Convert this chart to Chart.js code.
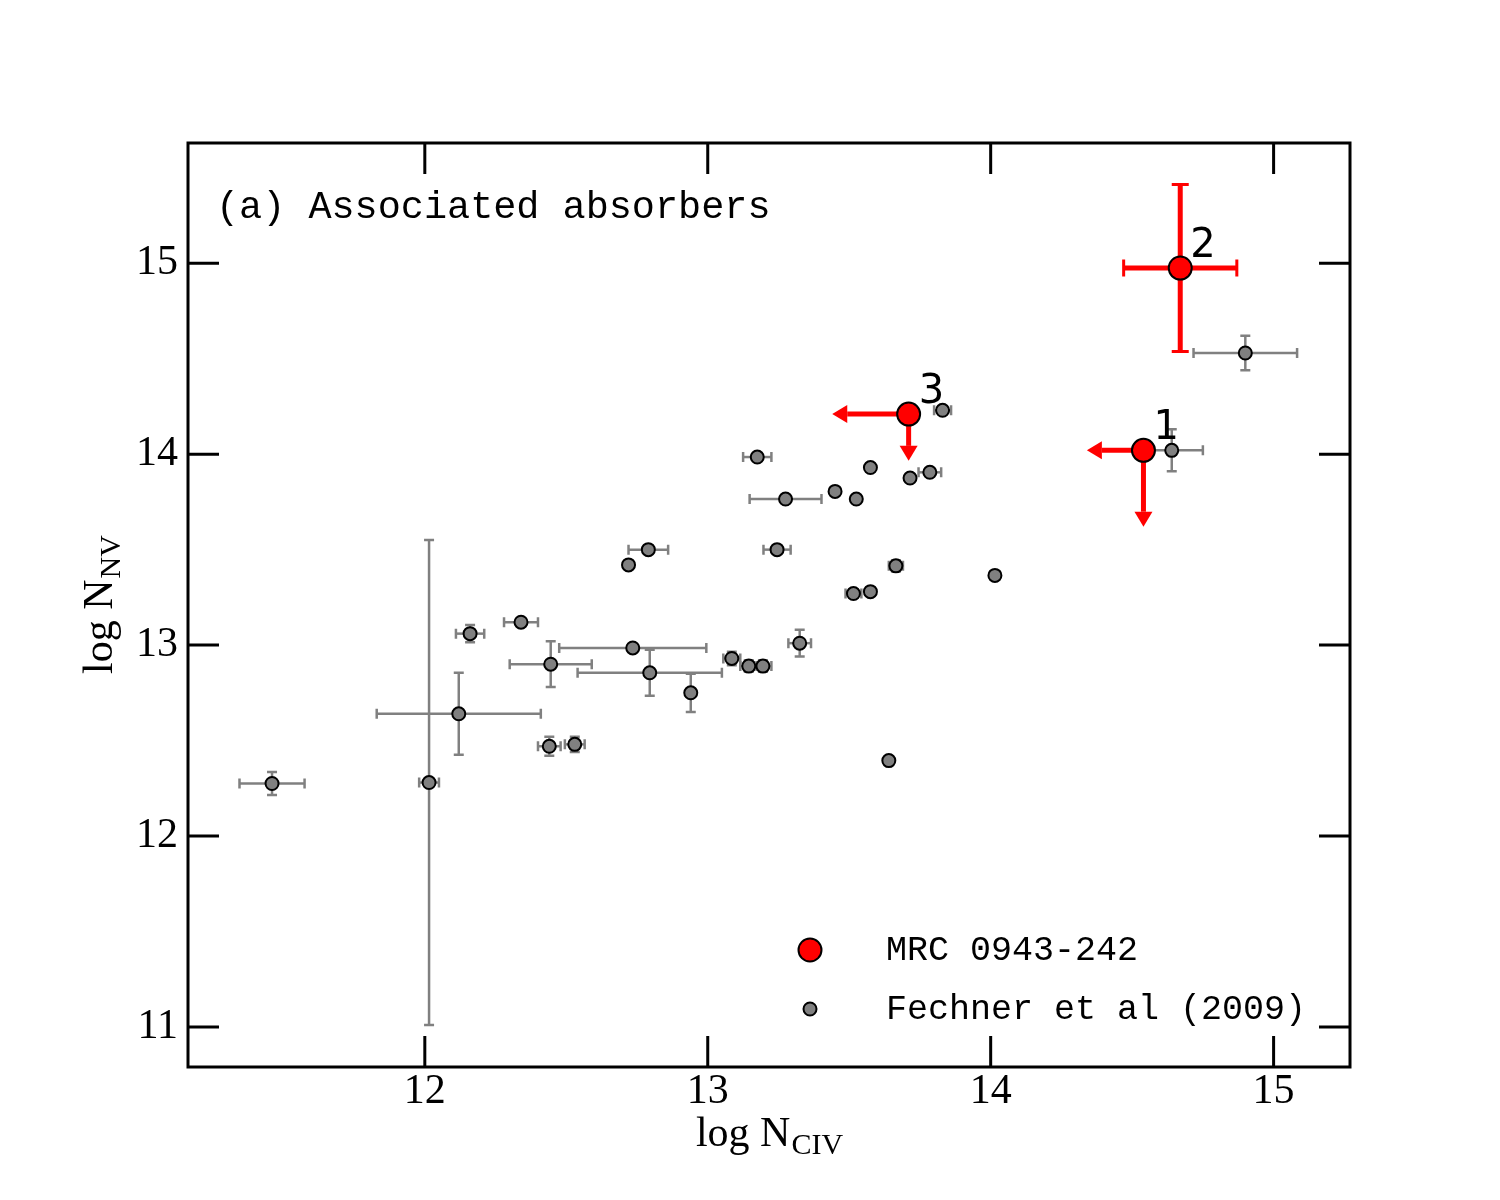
<!DOCTYPE html>
<html lang="en">
<head>
<meta charset="UTF-8" />
<title>Associated absorbers: log N(NV) vs log N(CIV)</title>
<script src="https://cdn.jsdelivr.net/npm/chart.js"></script>
<style>
  html, body { margin: 0; padding: 0; background: #fff; }
  canvas { display: block; }
</style>
</head>
<body>
<canvas id="absChart" width="1500" height="1200"></canvas>
<script>
// Fechner et al (2009) - log N(CIV), log N(NV) and their errors
const fechX    = [11.46, 12.015, 12.12, 12.16, 12.34, 12.445, 12.44, 12.53, 12.72, 12.79, 12.735, 12.795,
                  12.94, 13.085, 13.145, 13.195, 13.175, 13.275, 13.245, 13.325, 13.45, 13.525, 13.575, 13.515,
                  13.575, 13.665, 13.715, 13.785, 13.83, 13.64, 14.015, 14.64, 14.90];
const fechY    = [12.275, 12.28, 12.64, 13.06, 13.12, 12.90, 12.47, 12.48, 13.42, 13.50, 12.985, 12.855,
                  12.75, 12.93, 12.89, 12.89, 13.985, 13.765, 13.50, 13.01, 13.805, 13.765, 13.93, 13.27,
                  13.28, 13.415, 13.875, 13.905, 14.23, 12.395, 13.365, 14.02, 14.53];
const fechXErr = [0.115, 0.035, 0.29, 0.05, 0.06, 0.145, 0.04, 0.035, 0, 0.07, 0.26, 0.255,
                  0.01, 0.03, 0.03, 0.03, 0.05, 0.127, 0.048, 0.04, 0, 0, 0, 0.028,
                  0, 0.025, 0, 0.04, 0.03, 0, 0.015, 0.11, 0.183];
const fechYErr = [0.06, 1.27, 0.215, 0.045, 0.01, 0.12, 0.05, 0.04, 0, 0.01, 0.02, 0.12,
                  0.10, 0.035, 0.03, 0.03, 0.01, 0.01, 0.01, 0.07, 0, 0, 0, 0.02,
                  0, 0.03, 0, 0.01, 0.01, 0, 0.01, 0.11, 0.09];

// MRC 0943-242 absorbers 1, 2, 3 (limits given as arrow lengths in dex)
const mrcLabels = ['1', '2', '3'];
const mrcX      = [14.54, 14.67, 13.71];
const mrcY      = [14.02, 14.975, 14.21];
const mrcXErr   = [0, 0.20, 0];
const mrcYErr   = [0, 0.437, 0];
const mrcXLim   = [0.20, 0, 0.27];
const mrcYLim   = [0.40, 0, 0.245];

const xTickVals = [12, 13, 14, 15];
const yTickVals = [11, 12, 13, 14, 15];
const xRange = [11.163, 15.27];
const yRange = [10.79, 15.63];

const toPoints = (xs, ys) => xs.map((x, i) => ({ x: x, y: ys[i] }));

// error bars and limit arrows, under the markers
const errorBars = {
  id: 'errorBars',
  beforeDatasetsDraw(chart) {
    const ctx = chart.ctx, sx = chart.scales.x, sy = chart.scales.y;
    chart.data.datasets.slice().reverse().forEach(ds => {
      const e = ds.err;
      if (!e) return;
      ctx.save();
      ctx.strokeStyle = e.color;
      ctx.fillStyle = e.color;
      ds.data.forEach((p, i) => {
        const px = sx.getPixelForValue(p.x), py = sy.getPixelForValue(p.y);
        const dx = e.x[i], dy = e.y[i];
        if (dx) {
          const a = sx.getPixelForValue(p.x - dx), b = sx.getPixelForValue(p.x + dx);
          ctx.lineWidth = e.width;
          ctx.beginPath(); ctx.moveTo(a, py); ctx.lineTo(b, py); ctx.stroke();
          ctx.lineWidth = e.capWidth;
          ctx.beginPath();
          ctx.moveTo(a, py - e.cap); ctx.lineTo(a, py + e.cap);
          ctx.moveTo(b, py - e.cap); ctx.lineTo(b, py + e.cap);
          ctx.stroke();
        }
        if (dy) {
          const a = sy.getPixelForValue(p.y - dy), b = sy.getPixelForValue(p.y + dy);
          ctx.lineWidth = e.width;
          ctx.beginPath(); ctx.moveTo(px, a); ctx.lineTo(px, b); ctx.stroke();
          ctx.lineWidth = e.capWidth;
          ctx.beginPath();
          ctx.moveTo(px - e.cap, a); ctx.lineTo(px + e.cap, a);
          ctx.moveTo(px - e.cap, b); ctx.lineTo(px + e.cap, b);
          ctx.stroke();
        }
        const head = 15, half = 9;
        if (e.xLim && e.xLim[i]) {
          const tip = sx.getPixelForValue(p.x - e.xLim[i]);
          ctx.lineWidth = e.width;
          ctx.beginPath(); ctx.moveTo(px, py); ctx.lineTo(tip + head, py); ctx.stroke();
          ctx.beginPath();
          ctx.moveTo(tip, py); ctx.lineTo(tip + head, py - half); ctx.lineTo(tip + head, py + half);
          ctx.closePath(); ctx.fill();
        }
        if (e.yLim && e.yLim[i]) {
          const tip = sy.getPixelForValue(p.y - e.yLim[i]);
          ctx.lineWidth = e.width;
          ctx.beginPath(); ctx.moveTo(px, py); ctx.lineTo(px, tip - head); ctx.stroke();
          ctx.beginPath();
          ctx.moveTo(px, tip); ctx.lineTo(px - half, tip - head); ctx.lineTo(px + half, tip - head);
          ctx.closePath(); ctx.fill();
        }
      });
      ctx.restore();
    });
  }
};

// frame with inward ticks on all sides, labels, legend and axis titles
const decorations = {
  id: 'decorations',
  afterDatasetsDraw(chart) {
    const ctx = chart.ctx, a = chart.chartArea, sx = chart.scales.x, sy = chart.scales.y;
    ctx.save();
    ctx.strokeStyle = '#000';
    ctx.lineWidth = 3;
    ctx.strokeRect(a.left, a.top, a.right - a.left, a.bottom - a.top);
    const tl = 31;
    ctx.beginPath();
    xTickVals.forEach(v => {
      const x = sx.getPixelForValue(v);
      ctx.moveTo(x, a.bottom); ctx.lineTo(x, a.bottom - tl);
      ctx.moveTo(x, a.top); ctx.lineTo(x, a.top + tl);
    });
    yTickVals.forEach(v => {
      const y = sy.getPixelForValue(v);
      ctx.moveTo(a.left, y); ctx.lineTo(a.left + tl, y);
      ctx.moveTo(a.right, y); ctx.lineTo(a.right - tl, y);
    });
    ctx.stroke();

    // numbers next to MRC absorbers
    ctx.fillStyle = '#000';
    ctx.font = '40px "DejaVu Sans"';
    ctx.textBaseline = 'alphabetic';
    ctx.textAlign = 'left';
    mrcLabels.forEach((t, i) => {
      ctx.fillText(t, sx.getPixelForValue(mrcX[i]) + 10, sy.getPixelForValue(mrcY[i]) - 11);
    });

    // panel label
    ctx.font = '38.5px "Liberation Mono"';
    ctx.fillText('(a) Associated absorbers', a.left + 28, a.top + 75);

    // legend
    const lx = a.right - 540, tx = a.right - 464;
    const rows = [a.bottom - 117, a.bottom - 58];
    chart.data.datasets.forEach((ds, i) => {
      ctx.beginPath();
      ctx.arc(lx, rows[i], ds.pointRadius, 0, Math.PI * 2);
      ctx.fillStyle = ds.backgroundColor;
      ctx.fill();
      ctx.lineWidth = ds.borderWidth;
      ctx.strokeStyle = ds.borderColor;
      ctx.stroke();
      ctx.fillStyle = '#000';
      ctx.font = '35px "Liberation Mono"';
      ctx.textBaseline = 'middle';
      ctx.fillText(ds.label, tx, rows[i] + 1);
    });

    // axis titles with subscripts
    const drawTitle = (main, sub, cx, cy) => {
      ctx.textBaseline = 'alphabetic';
      ctx.textAlign = 'left';
      ctx.font = '42px "Liberation Serif"';
      const w1 = ctx.measureText(main).width;
      ctx.font = '30px "Liberation Serif"';
      const w2 = ctx.measureText(sub).width;
      const x0 = cx - (w1 + w2) / 2;
      ctx.font = '42px "Liberation Serif"';
      ctx.fillText(main, x0, cy);
      ctx.font = '30px "Liberation Serif"';
      ctx.fillText(sub, x0 + w1 + 1, cy + 8);
    };
    ctx.fillStyle = '#000';
    drawTitle('log N', 'CIV', (a.left + a.right) / 2, a.bottom + 79);
    ctx.save();
    ctx.translate(a.left - 76, (a.top + a.bottom) / 2);
    ctx.rotate(-Math.PI / 2);
    drawTitle('log N', 'NV', 0, 0);
    ctx.restore();
    ctx.restore();
  }
};

new Chart(document.getElementById('absChart'), {
  type: 'scatter',
  data: {
    datasets: [
      {
        label: 'MRC 0943-242',
        data: toPoints(mrcX, mrcY),
        pointRadius: 11.5,
        pointHoverRadius: 11.5,
        backgroundColor: '#ff0000',
        borderColor: '#000000',
        borderWidth: 2,
        order: 0,
        err: { x: mrcXErr, y: mrcYErr, xLim: mrcXLim, yLim: mrcYLim,
               color: '#ff0000', width: 5, capWidth: 3, cap: 8.5 }
      },
      {
        label: 'Fechner et al (2009)',
        data: toPoints(fechX, fechY),
        pointRadius: 6.5,
        pointHoverRadius: 6.5,
        backgroundColor: '#808080',
        borderColor: '#000000',
        borderWidth: 2,
        order: 1,
        err: { x: fechXErr, y: fechYErr, color: '#808080', width: 2.5, capWidth: 2.5, cap: 5 }
      }
    ]
  },
  options: {
    responsive: false,
    animation: false,
    devicePixelRatio: 1,
    layout: { padding: { top: 143, right: 150, left: 0, bottom: 0 } },
    scales: {
      x: {
        type: 'linear',
        min: xRange[0],
        max: xRange[1],
        afterBuildTicks: s => { s.ticks = xTickVals.map(v => ({ value: v })); },
        afterFit: s => { s.height = 133; },
        grid: { display: false, drawTicks: false, tickLength: 0 },
        border: { display: false },
        ticks: { color: '#000', padding: 0, font: { family: 'Liberation Serif', size: 42 } }
      },
      y: {
        type: 'linear',
        min: yRange[0],
        max: yRange[1],
        afterBuildTicks: s => { s.ticks = yTickVals.map(v => ({ value: v })); },
        afterFit: s => { s.width = 188; },
        grid: { display: false, drawTicks: false, tickLength: 0 },
        border: { display: false },
        ticks: { color: '#000', padding: 10, font: { family: 'Liberation Serif', size: 42 } }
      }
    },
    plugins: {
      legend: { display: false },
      tooltip: { enabled: false }
    }
  },
  plugins: [errorBars, decorations]
});
</script>
</body>
</html>
